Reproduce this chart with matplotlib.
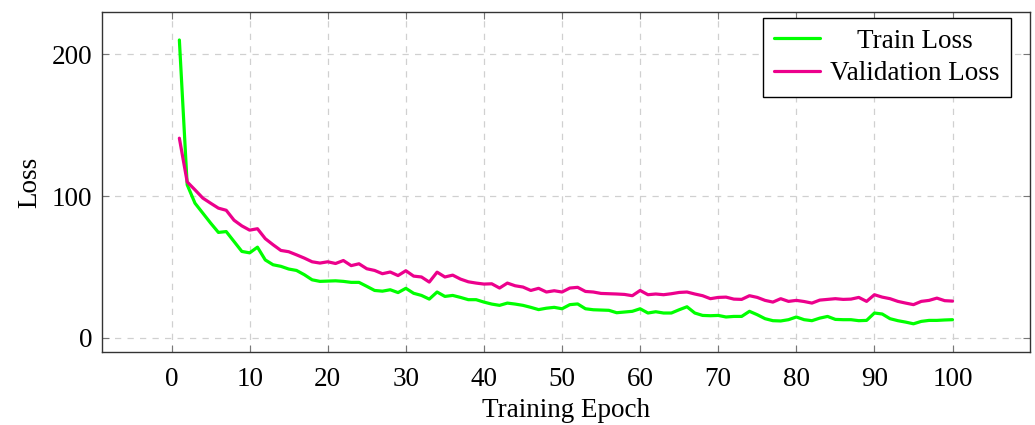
# Training / validation loss curves
import numpy as np
import matplotlib.pyplot as plt

plt.rcParams['font.family'] = ['Liberation Serif', 'DejaVu Serif']

# values, one per epoch
epochs = list(range(1, 101))
train_loss = [210, 108, 95, 88, 81, 74.4, 75, 68, 61, 60,
              64, 55, 51.6, 50.5, 48.6, 47.6, 44.6, 41, 39.9, 40.1,
              40.3, 39.9, 39.2, 39.2, 36.4, 33.5, 33, 34, 32, 35,
              31.5, 30, 27.4, 32.4, 29.3, 30, 28.6, 27, 27, 25.3,
              23.9, 23, 24.6, 23.9, 23, 21.6, 20, 21, 21.6, 20.6,
              23.5, 24, 20.6, 19.9, 19.7, 19.5, 17.8, 18.3, 18.8, 20.6,
              17.6, 18.5, 17.6, 17.6, 19.9, 22, 17.6, 15.9, 15.7, 15.9,
              14.8, 15.2, 15.2, 18.8, 16.4, 13.6, 12.2, 12, 12.9, 14.8,
              12.9, 12.2, 14, 15.2, 13.1, 12.9, 12.9, 12.2, 12.4, 17.6,
              16.9, 13.6, 12.2, 11.2, 10, 11.7, 12.4, 12.4, 12.7, 12.9]
val_loss = [140.8, 110, 104.4, 98.6, 95, 91.5, 90, 83, 79, 76,
            77, 70, 65.7, 61.7, 60.8, 58.6, 56.3, 53.7, 52.8, 53.7,
            52.5, 54.6, 51, 52.3, 48.8, 47.6, 45.3, 46.5, 44, 47.4,
            43.6, 43, 39.4, 46.4, 43, 44.3, 41.5, 39.6, 38.7, 38,
            38.2, 35.2, 38.7, 36.8, 35.9, 33.5, 35, 32.4, 33.3, 32.4,
            35.2, 35.7, 32.8, 32.4, 31.4, 31.2, 31, 30.7, 29.8, 33.5,
            30.5, 31, 30.5, 31.2, 32.1, 32.4, 31, 29.8, 27.7, 28.6,
            28.8, 27.4, 27.2, 29.8, 28.6, 26.5, 25.3, 27.7, 25.8, 26.5,
            25.7, 24.6, 26.7, 27.2, 27.7, 27.2, 27.4, 28.6, 25.8, 30.5,
            28.8, 27.7, 25.8, 24.6, 23.5, 25.8, 26.5, 28.1, 26.3, 26]

FS = 19.5

fig = plt.figure(figsize=(10.35, 4.25), dpi=100)
ax = fig.add_axes([0.0986, 0.172, 0.8964, 0.80])

ax.plot(epochs, train_loss, color='#00ff00', lw=2.3, label='Train Loss',
        solid_joinstyle='round', solid_capstyle='round')
ax.plot(epochs, val_loss, color='#ec008c', lw=2.3, label='Validation Loss',
        solid_joinstyle='round', solid_capstyle='round')

ax.set_xlim(-8.9, 109.9)
ax.set_ylim(-9.8, 229.8)
ax.set_xticks(range(0, 101, 10))
ax.set_yticks([0, 100, 200])
ax.grid(True, color='#d0d0d0', linestyle=(0, (5, 5)), lw=0.9)
ax.tick_params(direction='in', top=True, right=True, length=5,
               color='#777777', labelsize=FS)
ax.tick_params(axis='x', pad=11)
ax.tick_params(axis='y', pad=7)
for s in ax.spines.values():
    s.set_color('#333333')
    s.set_linewidth(1.0)

ax.set_xlabel('Training Epoch', fontsize=FS, labelpad=4)
ax.set_ylabel('Loss', fontsize=FS, labelpad=7)

leg = ax.legend(loc='upper right', bbox_to_anchor=(1 - 19 / 928, 1 - 6 / 340),
                fontsize=FS, frameon=True, fancybox=False,
                edgecolor='black', framealpha=1, handlelength=1.7,
                handletextpad=0.4, borderaxespad=0, borderpad=0.4,
                labelspacing=0.28)
leg.get_frame().set_linewidth(1.0)

# pgfplots centres the legend entries, shift the short one over
fig.canvas.draw()
r = fig.canvas.get_renderer()
widths = [t.get_window_extent(r).width for t in leg.get_texts()]
wmax = max(widths)
for t, w in zip(leg.get_texts(), widths):
    t.set_x((wmax - w) / 2)

fig.savefig('out.png', dpi=100)
